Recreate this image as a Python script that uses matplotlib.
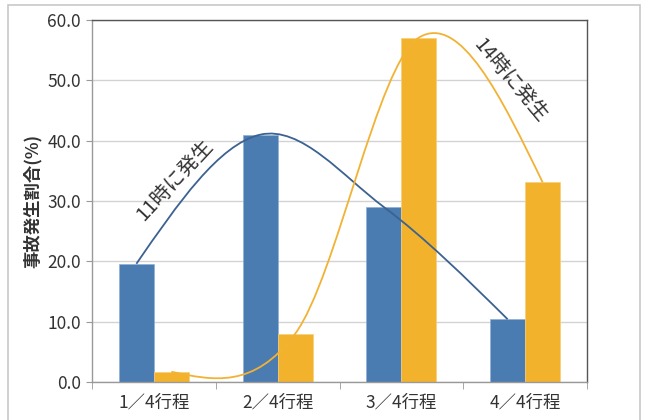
import numpy as np
import matplotlib
matplotlib.use("Agg")
import matplotlib.pyplot as plt
from matplotlib.path import Path
from matplotlib.patches import PathPatch, Rectangle

plt.rcParams["font.family"] = ["Noto Sans CJK JP", "DejaVu Sans"]

# ---- data ----
categories = ["1／4行程", "2／4行程", "3／4行程", "4／4行程"]
at_11 = [19.6, 41.0, 29.0, 10.4]   # 11時に発生
at_14 = [1.7, 8.0, 57.1, 33.1]     # 14時に発生
y_ticks = [0, 10, 20, 30, 40, 50, 60]

BLUE = "#4a7bb1"
BLUE_LINE = "#3b6290"
YELLOW = "#f3b22b"
YELLOW_LINE = "#f2b233"
GRID = "#d3d3d3"
TEXT = "#333333"


def smooth_path(xs, ys):
    """Cubic Bezier through the points (Catmull-Rom inside, natural ends)."""
    xs = np.asarray(xs, float)
    ys = np.asarray(ys, float)
    n = len(ys)
    m = np.zeros(n)
    for i in range(1, n - 1):
        m[i] = (ys[i + 1] - ys[i - 1]) / 2
    m[0] = (3 * (ys[1] - ys[0]) - m[1]) / 2
    m[-1] = (3 * (ys[-1] - ys[-2]) - m[-2]) / 2
    verts = [(xs[0], ys[0])]
    codes = [Path.MOVETO]
    for i in range(n - 1):
        h = xs[i + 1] - xs[i]
        verts += [(xs[i] + h / 3, ys[i] + m[i] / 3),
                  (xs[i + 1] - h / 3, ys[i + 1] - m[i + 1] / 3),
                  (xs[i + 1], ys[i + 1])]
        codes += [Path.CURVE4] * 3
    return Path(verts, codes)


fig = plt.figure(figsize=(6.49, 4.20), dpi=100)
ax = fig.add_axes([0.1418, 0.0905, 0.7627, 0.8617])

x = np.arange(len(categories))
w = 0.283
ax.bar(x - w / 2, at_11, w, color=BLUE, edgecolor="#8fb0d6", linewidth=0.5, zorder=2)
ax.bar(x + w / 2, at_14, w, color=YELLOW, edgecolor="#f7cf7a", linewidth=0.5, zorder=2)

ax.add_patch(PathPatch(smooth_path(x - w / 2, at_11), fill=False,
                       edgecolor=BLUE_LINE, linewidth=1.3, zorder=3))
ax.add_patch(PathPatch(smooth_path(x + w / 2, at_14), fill=False,
                       edgecolor=YELLOW_LINE, linewidth=1.3, zorder=3))

ax.text(0.168, 0.558, "11時に発生", transform=ax.transAxes, rotation=47,
        rotation_mode="anchor", ha="center", va="center", fontsize=14.5, color=TEXT)
ax.text(0.844, 0.834, "14時に発生", transform=ax.transAxes, rotation=-50,
        rotation_mode="anchor", ha="center", va="center", fontsize=14.5, color=TEXT)

ax.set_xlim(-0.5, len(categories) - 0.5)
ax.set_ylim(0, 60)
ax.set_yticks(y_ticks)
ax.set_yticklabels([f"{v:.1f}" for v in y_ticks], fontsize=12.5, color=TEXT)
ax.set_xticks(x)
ax.set_xticklabels(categories, fontsize=12.5, color=TEXT)
ax.set_xticks(np.arange(len(categories) + 1) - 0.5, minor=True)
ax.tick_params(axis="x", which="major", length=0, pad=8)
ax.tick_params(axis="x", which="minor", length=5, color="#999999")
ax.tick_params(axis="y", length=4, color="#999999", pad=4)
ax.yaxis.grid(True, color=GRID, linewidth=1.0)
ax.set_axisbelow(True)

ax.spines[["left", "bottom"]].set_color("#999999")
ax.spines[["top", "right"]].set_color("#555555")
for s in ax.spines.values():
    s.set_linewidth(1.0)

ax.set_ylabel("事故発生割合(%)", fontsize=12.5, fontweight="bold", color=TEXT, labelpad=4)

fig.patches.append(Rectangle((8 / 649, -0.02), 632 / 649, 1 - 5 / 420 + 0.02,
                             transform=fig.transFigure, fill=False,
                             edgecolor="#c8c8c8", linewidth=1.2))

fig.savefig("out.png", dpi=100)
